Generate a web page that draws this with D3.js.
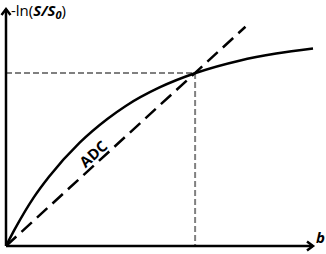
<!DOCTYPE html>
<meta charset="utf-8">
<style>
body { margin: 0; background: #fff; }
text { font-family: "Open Sans", sans-serif; }
</style>
<body>
<script src="https://cdn.jsdelivr.net/npm/d3@7"></script>
<script>

// curve (arbitrary units, b 0..100)
var bVals = [0, 3, 9, 14, 24, 33, 39, 50, 62, 76, 88, 100];
var sigVals = [0, 7.4, 20.4, 29.2, 43.6, 53.6, 59.1, 66.9, 73.1, 78.2, 81.2, 83.3];

// ADC straight line
var adcB = [0, 78];
var adcY = [0, 92.5];

// crossing point marked by the gray guides
var crossB = 61.6, crossY = 73.0;

var width = 326, height = 254;

var svg = d3.select("body").append("svg")
    .attr("width", width)
    .attr("height", height);

var x = d3.scaleLinear().domain([0, 100]).range([6, 313]);
var y = d3.scaleLinear().domain([0, 100]).range([246, 9]);

// gray guides
svg.append("line")
    .attr("x1", x(0)).attr("y1", y(crossY))
    .attr("x2", x(crossB)).attr("y2", y(crossY))
    .style("stroke", "#808080").style("stroke-width", 2)
    .style("stroke-dasharray", "6,3");
svg.append("line")
    .attr("x1", x(crossB)).attr("y1", y(crossY))
    .attr("x2", x(crossB)).attr("y2", y(0))
    .style("stroke", "#808080").style("stroke-width", 2)
    .style("stroke-dasharray", "6,3");

// ADC dashed line
svg.append("line")
    .attr("x1", x(adcB[0])).attr("y1", y(adcY[0]))
    .attr("x2", x(adcB[1])).attr("y2", y(adcY[1]))
    .style("stroke", "#000").style("stroke-width", 2.5)
    .style("stroke-dasharray", "14,7");

// curve
var line = d3.line()
    .x(function(d, i) { return x(bVals[i]); })
    .y(function(d) { return y(d); })
    .curve(d3.curveMonotoneX);

svg.append("path")
    .datum(sigVals)
    .attr("d", line)
    .style("fill", "none")
    .style("stroke", "#000")
    .style("stroke-width", 2.5);

// axes
svg.append("line")
    .attr("x1", x(0)).attr("y1", y(0))
    .attr("x2", x(100)).attr("y2", y(0))
    .style("stroke", "#000").style("stroke-width", 2.5);
svg.append("line")
    .attr("x1", x(0)).attr("y1", y(0))
    .attr("x2", x(0)).attr("y2", y(100))
    .style("stroke", "#000").style("stroke-width", 2.5);

// arrowheads
svg.append("path")
    .attr("d", "M" + (x(100) - 6) + "," + (y(0) - 4.5) + "L" + x(100) + "," + y(0) + "L" + (x(100) - 6) + "," + (y(0) + 4.5))
    .style("fill", "none").style("stroke", "#000").style("stroke-width", 2.5);
svg.append("path")
    .attr("d", "M" + (x(0) - 4.5) + "," + (y(100) + 6) + "L" + x(0) + "," + y(100) + "L" + (x(0) + 4.5) + "," + (y(100) + 6))
    .style("fill", "none").style("stroke", "#000").style("stroke-width", 2.5);

// labels
var ylab = svg.append("text")
    .attr("x", 11).attr("y", 16)
    .style("font-size", "15px");
ylab.append("tspan").text("-ln(");
ylab.append("tspan").text("S/S").style("font-weight", "bold").style("font-style", "italic");
ylab.append("tspan").text("0").attr("dy", 3).style("font-size", "11px")
    .style("font-weight", "bold").style("font-style", "italic");
ylab.append("tspan").text(")").attr("dy", -3);

svg.append("text")
    .attr("x", 316).attr("y", 243)
    .style("font-size", "15px").style("font-weight", "bold").style("font-style", "italic")
    .text("b");

var ang = Math.atan2(y(0) - y(adcY[1]), x(adcB[1]) - x(0)) * 180 / Math.PI;
svg.append("text")
    .attr("transform", "translate(" + 97 + "," + 158 + ") rotate(" + (-ang) + ")")
    .attr("text-anchor", "middle")
    .style("font-size", "15px").style("font-weight", "bold")
    .text("ADC");

</script>
</body>
